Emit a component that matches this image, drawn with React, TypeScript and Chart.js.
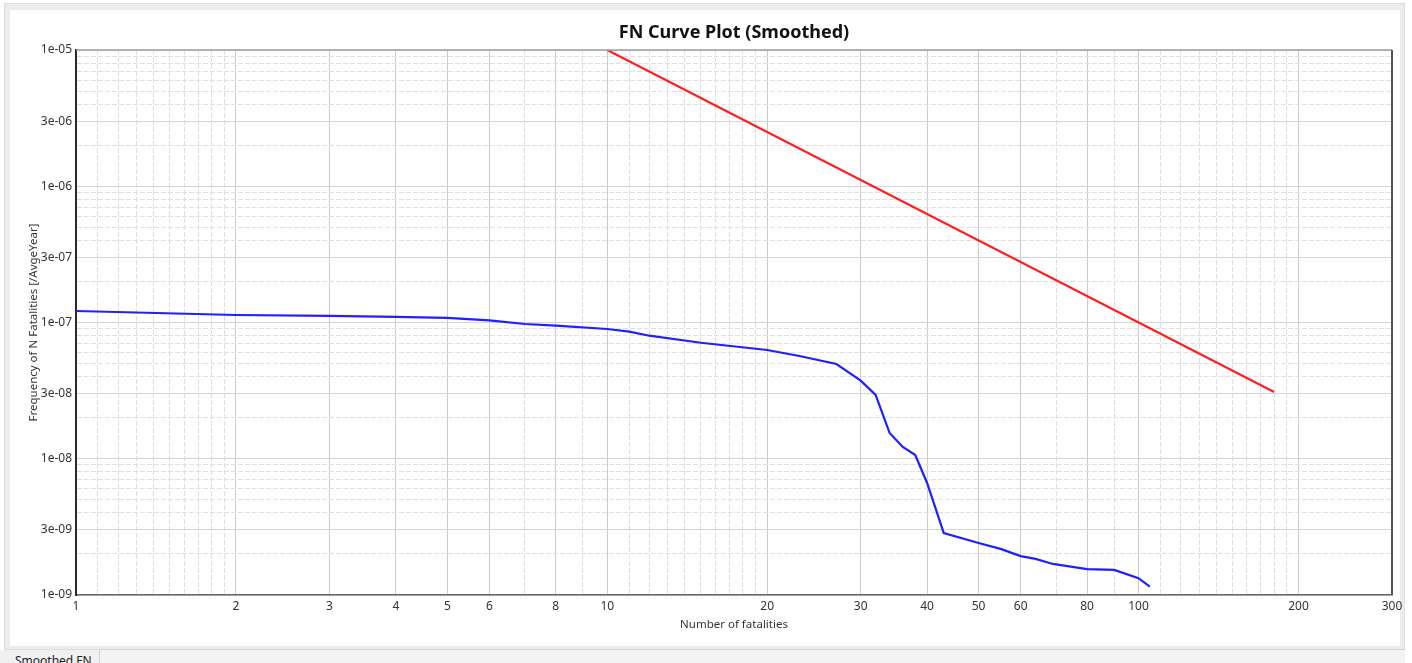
import React, { useEffect, useRef } from 'react';
import { Chart, registerables } from 'chart.js';

Chart.register(...registerables);

// ---- Data ----
const fatalities = [1, 2, 3, 4, 5, 6, 7, 8, 10, 11, 12, 15, 20, 23, 27, 30, 32, 34, 36, 38, 40, 43, 50, 55, 60, 64, 69, 80, 90, 100, 105];
const frequency = [
  1.215e-7, 1.135e-7, 1.117e-7, 1.1e-7, 1.08e-7, 1.035e-7, 9.75e-8, 9.47e-8, 8.96e-8, 8.56e-8,
  8.0e-8, 7.1e-8, 6.28e-8, 5.68e-8, 4.96e-8, 3.74e-8, 2.94e-8, 1.545e-8, 1.22e-8, 1.066e-8,
  6.64e-9, 2.85e-9, 2.41e-9, 2.18e-9, 1.93e-9, 1.84e-9, 1.69e-9, 1.55e-9, 1.53e-9, 1.33e-9, 1.15e-9,
];
const criterionN = [10, 180];
const criterionF = [1e-5, 3.09e-8];

// ---- Ticks / gridlines ----
const xMajorTicks = [1, 2, 3, 4, 5, 6, 8, 10, 20, 30, 40, 50, 60, 80, 100, 200, 300];
const xTickLabels = ['1', '2', '3', '4', '5', '6', '8', '10', '20', '30', '40', '50', '60', '80', '100', '200', '300'];
const xMinorTicks = [1.1, 1.2, 1.3, 1.4, 1.5, 1.6, 1.7, 1.8, 1.9, 7, 9, 11, 12, 13, 14, 15, 16, 17, 18, 19, 70, 90, 110, 120, 130, 140, 150, 160, 170, 180, 190];
const yMajorTicks = [1e-9, 3e-9, 1e-8, 3e-8, 1e-7, 3e-7, 1e-6, 3e-6, 1e-5];
const yTickLabels = ['1e-09', '3e-09', '1e-08', '3e-08', '1e-07', '3e-07', '1e-06', '3e-06', '1e-05'];
const yMinorTicks = [
  2e-9, 4e-9, 5e-9, 6e-9, 7e-9, 8e-9, 9e-9,
  2e-8, 4e-8, 5e-8, 6e-8, 7e-8, 8e-8, 9e-8,
  2e-7, 4e-7, 5e-7, 6e-7, 7e-7, 8e-7, 9e-7,
  2e-6, 4e-6, 5e-6, 6e-6, 7e-6, 8e-6, 9e-6,
];

type TickItem = { value: number; label: string; major: boolean };

function buildItems(major: number[], labels: string[], minor: number[]): TickItem[] {
  const items: TickItem[] = major.map((v, i) => ({ value: v, label: labels[i], major: true }));
  minor.forEach((v) => items.push({ value: v, label: '', major: false }));
  items.sort((a, b) => a.value - b.value);
  return items;
}

const FONT = "'Noto Sans', 'Open Sans', sans-serif";

export default function App() {
  const canvasRef = useRef<HTMLCanvasElement | null>(null);

  useEffect(() => {
    const canvas = canvasRef.current;
    if (!canvas) return;
    const xItems = buildItems(xMajorTicks, xTickLabels, xMinorTicks);
    const yItems = buildItems(yMajorTicks, yTickLabels, yMinorTicks);

    const framePlugin = {
      id: 'frame',
      afterDraw(chart: any) {
        const { ctx, chartArea: a } = chart;
        ctx.save();
        ctx.strokeStyle = '#9e9e9e';
        ctx.lineWidth = 1.5;
        ctx.beginPath();
        ctx.moveTo(a.left, a.top);
        ctx.lineTo(a.right, a.top);
        ctx.stroke();
        ctx.strokeStyle = '#555555';
        ctx.lineWidth = 2;
        ctx.beginPath();
        ctx.moveTo(a.right, a.top);
        ctx.lineTo(a.right, a.bottom);
        ctx.stroke();
        ctx.restore();
      },
    };

    const chart = new Chart(canvas, {
      type: 'scatter',
      data: {
        datasets: [
          {
            label: 'Criterion',
            data: criterionN.map((n, i) => ({ x: n, y: criterionF[i] })),
            showLine: true,
            borderColor: '#ff1f1f',
            backgroundColor: '#ff1f1f',
            borderWidth: 2.2,
            pointRadius: 0,
            tension: 0,
          },
          {
            label: 'Smoothed FN',
            data: fatalities.map((n, i) => ({ x: n, y: frequency[i] })),
            showLine: true,
            borderColor: '#1f1fff',
            backgroundColor: '#1f1fff',
            borderWidth: 2.2,
            pointRadius: 0,
            tension: 0,
          },
        ],
      },
      options: {
        animation: false,
        responsive: false,
        devicePixelRatio: 1,
        layout: { padding: { left: 0, right: 20, top: 0, bottom: 0 } },
        plugins: {
          legend: { display: false },
          tooltip: { enabled: false },
          title: {
            display: true,
            text: 'FN Curve Plot (Smoothed)',
            fullSize: false,
            color: '#111111',
            font: { family: FONT, size: 18, weight: 'bold' },
            padding: { top: 22, bottom: 6.4 },
          },
        },
        scales: {
          x: {
            type: 'logarithmic',
            min: 1,
            max: 300,
            afterBuildTicks: (scale: any) => {
              scale.ticks = xItems.map((t) => ({ value: t.value }));
            },
            afterFit: (scale: any) => {
              scale.height = 68;
            },
            ticks: {
              autoSkip: false,
              maxRotation: 0,
              padding: 4,
              color: '#333333',
              font: { family: FONT, size: 12 },
              callback: (_v: any, i: number) => xItems[i].label,
            },
            grid: {
              drawTicks: false,
              color: (ctx: any) => (xItems[ctx.index] && xItems[ctx.index].major ? '#cbcbcb' : '#dedede'),
              lineWidth: 1,
            },
            border: {
              color: '#6a6a6a',
              width: 1.5,
              dash: (ctx: any) => (ctx.type === 'tick' && xItems[ctx.index] && !xItems[ctx.index].major ? [5, 2] : []),
            },
            title: {
              display: true,
              text: 'Number of fatalities',
              color: '#333333',
              font: { family: FONT, size: 11.5 },
              padding: { top: 0, bottom: 31 },
            },
          },
          y: {
            type: 'logarithmic',
            min: 1e-9,
            max: 1e-5,
            afterBuildTicks: (scale: any) => {
              scale.ticks = yItems.map((t) => ({ value: t.value }));
            },
            afterFit: (scale: any) => {
              scale.width = 76;
            },
            ticks: {
              autoSkip: false,
              padding: 4,
              color: '#333333',
              font: { family: FONT, size: 12 },
              callback: (_v: any, i: number) => yItems[i].label,
            },
            grid: {
              drawTicks: false,
              color: (ctx: any) => (yItems[ctx.index] && yItems[ctx.index].major ? '#d4d4d4' : '#e0e0e0'),
              lineWidth: 1,
            },
            border: {
              color: '#2a2a2a',
              width: 2,
              dash: (ctx: any) => (ctx.type === 'tick' && yItems[ctx.index] && !yItems[ctx.index].major ? [5, 2] : []),
            },
            title: {
              display: true,
              text: 'Frequency of N Fatalities [/AvgeYear]',
              color: '#333333',
              font: { family: FONT, size: 11.5 },
              padding: { top: 27, bottom: 0 },
            },
          },
        },
      },
      plugins: [framePlugin],
    } as any);

    return () => {
      chart.destroy();
    };
  }, []);

  return (
    <div style={{ position: 'fixed', left: 0, top: 0, width: 1412, height: 663, background: '#ffffff', overflow: 'hidden' }}>
      <div
        style={{
          position: 'absolute',
          left: 4,
          top: 3,
          width: 1401,
          height: 647,
          boxSizing: 'border-box',
          background: '#ececec',
          border: '1px solid #dcdcdc',
        }}
      />
      <div style={{ position: 'absolute', left: 10, top: 10, width: 1390, height: 636, background: '#ffffff' }} />
      <div style={{ position: 'absolute', left: 0, top: 650, width: 1405, height: 13, background: '#f0f0f0' }} />
      <div
        style={{
          position: 'absolute',
          left: 99,
          top: 649,
          width: 1306,
          height: 14,
          boxSizing: 'border-box',
          background: '#f3f3f3',
          borderLeft: '1px solid #d4d4d4',
          borderTop: '1px solid #d4d4d4',
        }}
      />
      <div
        style={{
          position: 'absolute',
          left: 15,
          top: 654,
          fontFamily: FONT,
          fontSize: 12,
          lineHeight: '14px',
          color: '#222222',
          whiteSpace: 'nowrap',
        }}
      >
        Smoothed FN
      </div>
      <canvas
        ref={canvasRef}
        width={1412}
        height={663}
        style={{ position: 'absolute', left: 0, top: 0, width: 1412, height: 663 }}
      />
    </div>
  );
}
